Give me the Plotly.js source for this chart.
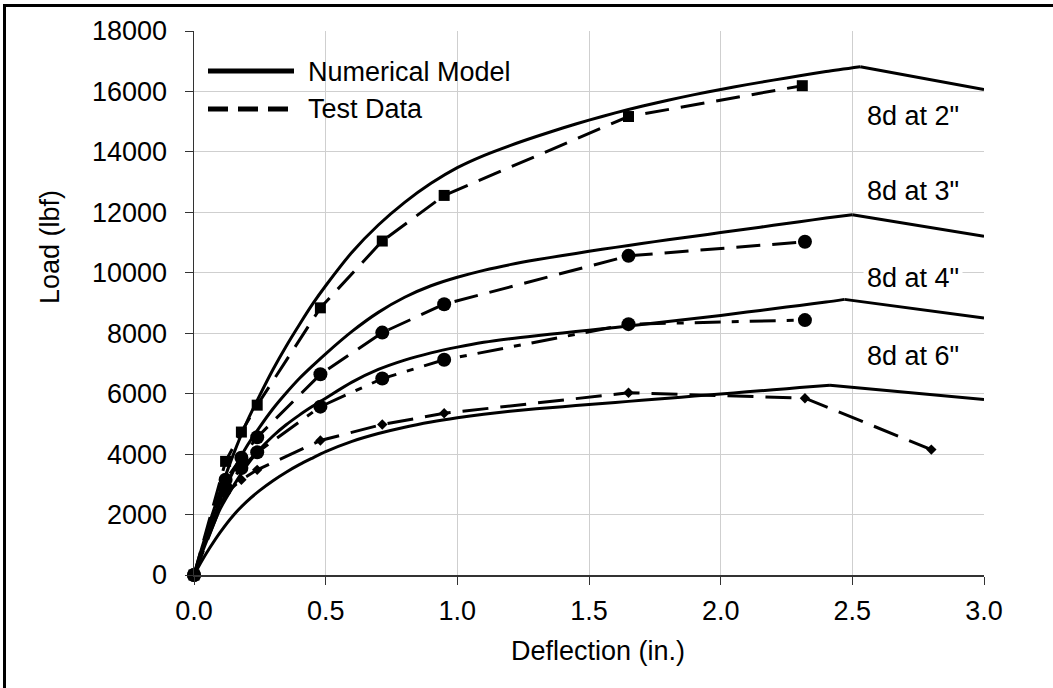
<!DOCTYPE html>
<html>
<head>
<meta charset="utf-8">
<script src="https://cdn.plot.ly/plotly-3.0.1.min.js"></script>
<style>
  html, body { margin: 0; padding: 0; background: #fff; }
  #wrap { position: relative; width: 1053px; height: 688px; overflow: hidden; }
  #chart { position: absolute; left: 0; top: 0; width: 1053px; height: 688px; }
  #frame { position: absolute; left: 3px; top: 4px; right: -10px; bottom: -10px;
           border-top: 3px solid #000; border-left: 3px solid #000; pointer-events: none; }
</style>
</head>
<body>
<div id="wrap"><div id="chart"></div><div id="frame"></div></div>
<script>
// ---- Numerical model curves (deflection in., load lbf) ----
const model2X = [0, 0.03, 0.06, 0.1, 0.15, 0.2, 0.25, 0.3, 0.35, 0.4, 0.45, 0.5, 0.6, 0.7, 0.8, 0.9, 1.0, 1.1, 1.2, 1.3, 1.4, 1.5, 1.6, 1.7, 1.8, 1.9, 2.0, 2.1, 2.2, 2.3, 2.4, 2.53, 3.0];
const model2Y = [0, 900, 1750, 2800, 4000, 5050, 5950, 6800, 7570, 8280, 8960, 9570, 10680, 11580, 12330, 12960, 13480, 13880, 14210, 14510, 14790, 15050, 15290, 15510, 15710, 15895, 16065, 16225, 16375, 16520, 16660, 16820, 16060];

const model3X = [0, 0.03, 0.06, 0.1, 0.15, 0.2, 0.25, 0.3, 0.35, 0.4, 0.45, 0.5, 0.6, 0.7, 0.8, 0.9, 1.0, 1.1, 1.2, 1.3, 1.4, 1.5, 1.6, 1.7, 1.8, 1.9, 2.0, 2.1, 2.2, 2.3, 2.4, 2.5, 3.0];
const model3Y = [0, 800, 1550, 2500, 3450, 4250, 4900, 5500, 6020, 6500, 6920, 7320, 8060, 8690, 9190, 9570, 9850, 10080, 10270, 10430, 10570, 10710, 10840, 10970, 11090, 11210, 11330, 11450, 11570, 11690, 11810, 11920, 11210];

const model4X = [0, 0.03, 0.06, 0.1, 0.15, 0.2, 0.25, 0.3, 0.35, 0.4, 0.45, 0.5, 0.6, 0.7, 0.8, 0.9, 1.0, 1.1, 1.2, 1.3, 1.4, 1.5, 1.6, 1.7, 1.8, 1.9, 2.0, 2.1, 2.2, 2.3, 2.4, 2.47, 3.0];
const model4Y = [0, 720, 1380, 2200, 2950, 3620, 4160, 4600, 4970, 5290, 5580, 5850, 6380, 6800, 7110, 7350, 7540, 7700, 7820, 7920, 8010, 8100, 8190, 8290, 8390, 8490, 8590, 8700, 8810, 8920, 9030, 9120, 8500];

const model6X = [0, 0.03, 0.06, 0.1, 0.15, 0.2, 0.25, 0.3, 0.35, 0.4, 0.45, 0.5, 0.6, 0.7, 0.8, 0.9, 1.0, 1.1, 1.2, 1.3, 1.4, 1.5, 1.6, 1.7, 1.8, 1.9, 2.0, 2.1, 2.2, 2.3, 2.415, 3.0];
const model6Y = [0, 470, 900, 1420, 1980, 2430, 2800, 3120, 3400, 3650, 3870, 4080, 4420, 4680, 4890, 5060, 5200, 5320, 5420, 5500, 5570, 5640, 5710, 5780, 5850, 5920, 5990, 6060, 6130, 6200, 6275, 5810];

// ---- Test data ----
const test2X = [0, 0.12, 0.18, 0.24, 0.48, 0.715, 0.95, 1.65, 2.31];
const test2Y = [0, 3760, 4730, 5620, 8840, 11050, 12560, 15170, 16190];

const test3X = [0, 0.12, 0.18, 0.24, 0.48, 0.715, 0.95, 1.65, 2.32];
const test3Y = [0, 3150, 3880, 4560, 6640, 8020, 8960, 10560, 11025];

const test4X = [0, 0.12, 0.18, 0.24, 0.48, 0.715, 0.95, 1.65, 2.32];
const test4Y = [0, 2900, 3540, 4060, 5570, 6500, 7120, 8300, 8435];

const test6X = [0, 0.12, 0.18, 0.24, 0.48, 0.715, 0.95, 1.65, 2.32, 2.8];
const test6Y = [0, 2700, 3150, 3480, 4450, 4980, 5350, 6030, 5850, 4150];

// ---- Labels ----
const seriesLabels = ['8d at 2"', '8d at 3"', '8d at 4"', '8d at 6"'];
const legendLabels = ['Numerical Model', 'Test Data'];
const xTitle = 'Deflection (in.)';
const yTitle = 'Load (lbf)';
const xTickVals = [0, 0.5, 1.0, 1.5, 2.0, 2.5, 3.0];
const yTickVals = [0, 2000, 4000, 6000, 8000, 10000, 12000, 14000, 16000, 18000];

const FONT = 'Liberation Sans, Arial, Helvetica, sans-serif';
const FS = 27;

function modelTraces(xs, ys) {
  // split at the peak: smooth curve up to the peak, straight drop after it
  let ip = 0;
  ys.forEach((v, i) => { if (v > ys[ip]) ip = i; });
  return [
    { x: xs.slice(0, ip + 1), y: ys.slice(0, ip + 1), type: 'scatter', mode: 'lines',
      line: { color: '#000', width: 3, shape: 'spline', smoothing: 0.8 }, showlegend: false, hoverinfo: 'skip' },
    { x: xs.slice(ip), y: ys.slice(ip), type: 'scatter', mode: 'lines',
      line: { color: '#000', width: 3 }, showlegend: false, hoverinfo: 'skip' }
  ];
}

function testTrace(xs, ys, symbol, size, dash) {
  return { x: xs, y: ys, type: 'scatter', mode: 'lines+markers', cliponaxis: false,
    line: { color: '#000', width: 3, dash: dash },
    marker: { symbol: symbol, size: size, color: '#000' },
    showlegend: false, hoverinfo: 'skip' };
}

const data = [].concat(
  modelTraces(model2X, model2Y),
  modelTraces(model3X, model3Y),
  modelTraces(model4X, model4Y),
  modelTraces(model6X, model6Y),
  [
    testTrace(test2X, test2Y, 'square', 11, '24px,12px'),
    testTrace(test3X, test3Y, 'circle', 14, '24px,12px'),
    testTrace(test4X, test4Y, 'circle', 14, '26px,11px,7px,11px'),
    testTrace(test6X, test6Y, 'diamond', 8, '26px,12px')
  ]
);

// plot-area pixel geometry helpers for paper coords
const L = 194, R = 984, T = 31, B = 575;
const W = 1053, H = 688;
const px = v => (v - L) / (R - L);
const py = v => (B - v) / (B - T);

const labelPos = [[2.73, 15180], [2.73, 12710], [2.73, 9820], [2.73, 7230]];

const annotations = seriesLabels.map((t, i) => ({
  x: labelPos[i][0], y: labelPos[i][1], xref: 'x', yref: 'y', text: t, showarrow: false,
  font: { family: FONT, size: FS, color: '#000' }, bgcolor: '#fff', borderpad: 3,
  xanchor: 'center', yanchor: 'middle'
}));

annotations.push(
  { x: px(306), y: py(72), xref: 'paper', yref: 'paper', text: legendLabels[0], showarrow: false,
    xanchor: 'left', yanchor: 'middle', font: { family: FONT, size: FS, color: '#000' } },
  { x: px(306), y: py(109), xref: 'paper', yref: 'paper', text: legendLabels[1], showarrow: false,
    xanchor: 'left', yanchor: 'middle', font: { family: FONT, size: FS, color: '#000' } },
  { x: px(598), y: py(651), xref: 'paper', yref: 'paper', text: xTitle, showarrow: false,
    xanchor: 'center', yanchor: 'middle', font: { family: FONT, size: FS, color: '#000' } },
  { x: px(50), y: py(247), xref: 'paper', yref: 'paper', text: yTitle, showarrow: false, textangle: -90,
    xanchor: 'center', yanchor: 'middle', font: { family: FONT, size: FS, color: '#000' } }
);

const shapes = [
  { type: 'line', xref: 'paper', yref: 'paper', x0: px(208), x1: px(294), y0: py(71), y1: py(71),
    line: { color: '#000', width: 5 } },
  { type: 'line', xref: 'paper', yref: 'paper', x0: px(208), x1: px(294), y0: py(109), y1: py(109),
    line: { color: '#000', width: 5, dash: '20px,10px' } }
];

const layout = {
  width: W, height: H,
  margin: { l: L, r: W - R, t: T, b: H - B, pad: 0 },
  paper_bgcolor: '#fff', plot_bgcolor: '#fff',
  showlegend: false,
  font: { family: FONT, size: FS, color: '#000' },
  xaxis: {
    range: [0, 3], tickvals: xTickVals, ticktext: xTickVals.map(v => v.toFixed(1)),
    showgrid: true, gridcolor: '#cfcfcf', gridwidth: 1,
    showline: true, linecolor: '#333', linewidth: 1.5,
    ticks: 'outside', ticklen: 8, tickcolor: '#333', tickwidth: 1,
    tickfont: { family: FONT, size: FS, color: '#000' }, ticklabelstandoff: 3,
    zeroline: false, fixedrange: true
  },
  yaxis: {
    range: [0, 18000], tickvals: yTickVals, ticktext: yTickVals.map(String),
    showgrid: true, gridcolor: '#cfcfcf', gridwidth: 1,
    showline: true, linecolor: '#333', linewidth: 1.5,
    ticks: 'outside', ticklen: 8, tickcolor: '#333', tickwidth: 1,
    tickfont: { family: FONT, size: FS, color: '#000' }, ticklabelstandoff: 12,
    zeroline: false, fixedrange: true
  },
  annotations: annotations,
  shapes: shapes
};

Plotly.newPlot('chart', data, layout, { displayModeBar: false, staticPlot: true });
</script>
</body>
</html>
